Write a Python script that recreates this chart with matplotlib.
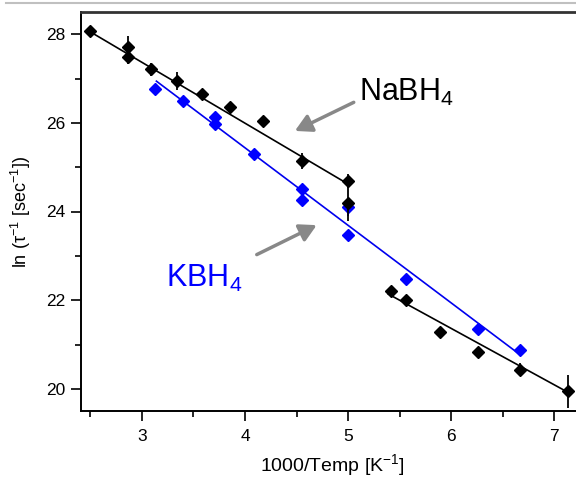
import numpy as np
import matplotlib
matplotlib.use('Agg')
import matplotlib.pyplot as plt
from matplotlib.lines import Line2D
from matplotlib.ticker import MultipleLocator

plt.rcParams['font.family'] = ['Liberation Sans', 'DejaVu Sans']
plt.rcParams['mathtext.fontset'] = 'custom'
plt.rcParams['mathtext.rm'] = 'Liberation Sans'
plt.rcParams['mathtext.it'] = 'Liberation Sans:italic'

# NaBH4 points (1000/T, ln(1/tau)) and error bars
na_x = [2.50, 2.86, 2.86, 3.09, 3.34, 3.58, 3.85, 4.17, 4.55, 5.00, 5.00,
        5.42, 5.56, 5.89, 6.26, 6.67, 7.14]
na_y = [28.07, 27.71, 27.48, 27.21, 26.94, 26.65, 26.36, 26.04, 25.14, 24.69, 24.19,
        22.21, 22.00, 21.29, 20.84, 20.43, 19.94]
na_err = [0.0, 0.25, 0.15, 0.15, 0.2, 0.12, 0.0, 0.0, 0.18, 0.15, 0.4,
          0.0, 0.0, 0.0, 0.0, 0.15, 0.37]

# KBH4 points
k_x = [3.13, 3.40, 3.71, 3.71, 4.09, 4.55, 4.55, 5.00, 5.00, 5.56, 6.26, 6.67]
k_y = [26.76, 26.49, 26.13, 25.97, 25.30, 24.51, 24.26, 24.10, 23.47, 22.48, 21.36, 20.88]
k_err = [0.0, 0.0, 0.0, 0.0, 0.0, 0.0, 0.0, 0.2, 0.0, 0.0, 0.0, 0.0]

# fitted lines, endpoints
na_fit1_x = [2.50, 5.00]
na_fit1_y = [28.05, 24.62]
na_fit2_x = [5.39, 7.16]
na_fit2_y = [22.14, 19.89]
k_fit_x = [3.14, 6.67]
k_fit_y = [26.94, 20.77]

fig = plt.figure(figsize=(5.76, 4.8), dpi=100)
ax = fig.add_axes([81 / 576, 1 - 411 / 480, 1.02 - 81 / 576, (411 - 12) / 480])

ax.plot(na_fit1_x, na_fit1_y, color='black', lw=1.2)
ax.plot(na_fit2_x, na_fit2_y, color='black', lw=1.2)
ax.plot(k_fit_x, k_fit_y, color='#0000ee', lw=1.2)

ax.errorbar(k_x, k_y, yerr=k_err, fmt='D', color='#0000ff', ms=6.5,
            elinewidth=1.3, capsize=0, zorder=3)
ax.errorbar(na_x, na_y, yerr=na_err, fmt='D', color='black', ms=6.5,
            elinewidth=1.3, capsize=0, zorder=4)

ax.set_xlim(2.408, 7.325)
ax.set_ylim(19.5, 28.5)
ax.xaxis.set_major_locator(MultipleLocator(1))
ax.xaxis.set_minor_locator(MultipleLocator(0.5))
ax.yaxis.set_major_locator(MultipleLocator(2))
ax.yaxis.set_minor_locator(MultipleLocator(1))
ax.tick_params(which='both', direction='out', labelsize=12.5, width=1.2, color='black')
ax.tick_params(which='major', length=7)
ax.tick_params(which='minor', length=4)
ax.tick_params(axis='x', pad=6)
ax.tick_params(axis='y', pad=4)
ax.tick_params(top=False, right=False)
ax.spines['left'].set_linewidth(1.4)
ax.spines['bottom'].set_linewidth(1.4)
ax.spines['top'].set_linewidth(2.0)
ax.spines['top'].set_color('#333333')

ax.set_xlabel('1000/Temp [K$^{-1}$]', fontsize=14, labelpad=8)
ax.set_ylabel('ln (τ$^{-1}$ [sec$^{-1}$])', fontsize=13, labelpad=10)
ax.xaxis.set_label_coords((332 - 81) / (576 * 1.02 - 81), -0.103)

ax.text(5.11, 26.49, 'NaBH$_4$', fontsize=22, color='black')
ax.text(3.23, 22.30, 'KBH$_4$', fontsize=22, color='#0000ff')
ax.annotate('', xy=(4.46, 25.79), xytext=(5.08, 26.49),
            arrowprops=dict(arrowstyle='-|>,head_width=0.55,head_length=1.0',
                            color='#888888', lw=2.5))
ax.annotate('', xy=(4.72, 23.72), xytext=(4.09, 23.0),
            arrowprops=dict(arrowstyle='-|>,head_width=0.55,head_length=1.0',
                            color='#888888', lw=2.5))

fig.add_artist(Line2D([0.01, 1.0], [1 - 3 / 480, 1 - 3 / 480], color='#c0c0c0', lw=1.5))

fig.savefig('out.png', dpi=100)
